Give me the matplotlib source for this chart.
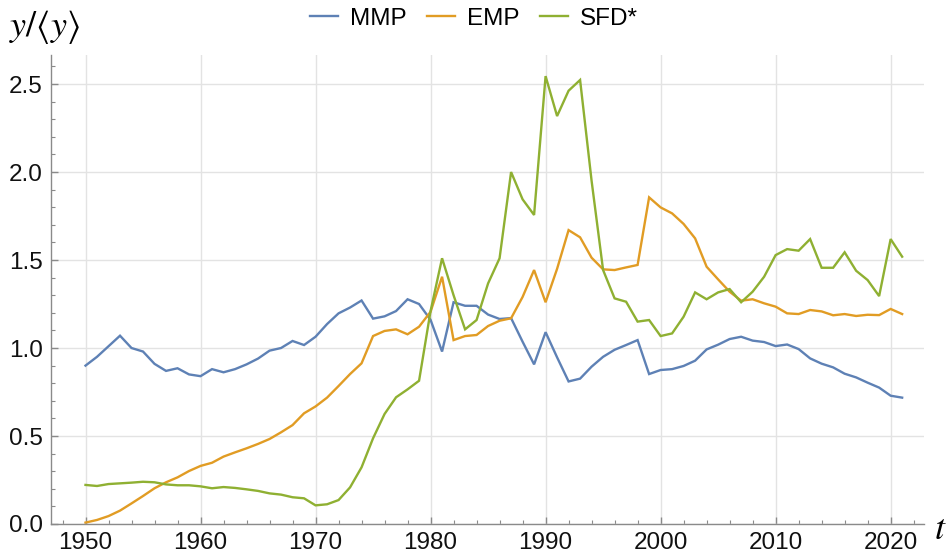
import matplotlib
matplotlib.use("Agg")
import matplotlib.pyplot as plt
from matplotlib.ticker import MultipleLocator
from matplotlib.lines import Line2D
import numpy as np

years = list(range(1950, 2022))

mmp = [0.90, 0.95, 1.01, 1.07, 1.00, 0.98, 0.91, 0.87, 0.885, 0.85,
       0.84, 0.88, 0.862, 0.88, 0.907, 0.94, 0.985, 1.00, 1.04, 1.017,
       1.064, 1.136, 1.197, 1.23, 1.27, 1.167, 1.18, 1.21, 1.277, 1.25,
       1.16, 0.98, 1.26, 1.24, 1.24, 1.19, 1.165, 1.17, 1.036, 0.907,
       1.09, 0.947, 0.81, 0.826, 0.894, 0.95, 0.99, 1.017, 1.045, 0.852,
       0.875, 0.88, 0.898, 0.928, 0.992, 1.019, 1.051, 1.064, 1.042, 1.034,
       1.011, 1.02, 0.994, 0.941, 0.911, 0.89, 0.854, 0.833, 0.803, 0.775,
       0.729, 0.718]

emp = [0.008, 0.023, 0.045, 0.076, 0.117, 0.159, 0.203, 0.237, 0.265, 0.301,
       0.33, 0.348, 0.383, 0.407, 0.430, 0.455, 0.483, 0.521, 0.562, 0.629,
       0.668, 0.718, 0.784, 0.852, 0.913, 1.068, 1.097, 1.106, 1.078, 1.121,
       1.206, 1.405, 1.045, 1.068, 1.074, 1.125, 1.155, 1.169, 1.29, 1.443,
       1.26, 1.45, 1.67, 1.629, 1.513, 1.447, 1.443, 1.458, 1.472, 1.856,
       1.799, 1.765, 1.705, 1.623, 1.462, 1.39, 1.32, 1.269, 1.277, 1.254,
       1.235, 1.197, 1.193, 1.216, 1.208, 1.186, 1.193, 1.182, 1.189, 1.187,
       1.222, 1.193]

sfd = [0.222, 0.216, 0.227, 0.231, 0.235, 0.24, 0.237, 0.225, 0.22, 0.22,
       0.214, 0.203, 0.21, 0.205, 0.197, 0.188, 0.174, 0.167, 0.152, 0.146,
       0.106, 0.112, 0.136, 0.208, 0.322, 0.487, 0.625, 0.72, 0.765, 0.814,
       1.21, 1.51, 1.30, 1.106, 1.159, 1.367, 1.51, 2.0, 1.845, 1.756,
       2.545, 2.318, 2.462, 2.523, 1.95, 1.443, 1.282, 1.263, 1.15, 1.159,
       1.068, 1.083, 1.178, 1.316, 1.277, 1.316, 1.335, 1.26, 1.32, 1.405,
       1.528, 1.562, 1.553, 1.619, 1.456, 1.456, 1.544, 1.439, 1.386, 1.295,
       1.619, 1.519]

series_names = ["MMP", "EMP", "SFD*"]
colors = ["#5E81B5", "#E19C24", "#8FB032"]

plt.rcParams["font.family"] = ["Liberation Sans", "DejaVu Sans"]
plt.rcParams["mathtext.fontset"] = "stix"

fig = plt.figure(figsize=(9.48, 5.57), dpi=100)
ax = fig.add_axes([51 / 948, 1 - 524 / 557, (924 - 51) / 948, (524 - 55) / 557])

for vals, c in zip([mmp, emp, sfd], colors):
    ax.plot(years, vals, color=c, lw=1.7, solid_joinstyle="miter")

ax.set_xlim(1947, 2022.9)
ax.set_ylim(0, 2.665)

ax.xaxis.set_major_locator(MultipleLocator(10))
ax.xaxis.set_minor_locator(MultipleLocator(2))
ax.yaxis.set_major_locator(MultipleLocator(0.5))
ax.yaxis.set_minor_locator(MultipleLocator(0.1))
ax.yaxis.set_major_formatter(plt.FuncFormatter(lambda v, p: f"{v:.1f}"))

ax.grid(True, which="major", color="#e3e3e3", lw=1.0)
ax.set_axisbelow(True)

for s in ["top", "right"]:
    ax.spines[s].set_visible(False)
for s in ["left", "bottom"]:
    ax.spines[s].set_color("#8a8a8a")
    ax.spines[s].set_linewidth(1.0)

ax.tick_params(which="both", direction="in", color="#8a8a8a", labelsize=17.5,
               labelcolor="#111111")
ax.tick_params(which="major", length=5, width=1.0, pad=6)
ax.tick_params(which="minor", length=3, width=0.8)

handles = [Line2D([], [], color=c, lw=1.7) for c in colors]
fig.legend(handles, series_names, loc="center", bbox_to_anchor=(0.5, 0.966),
           ncol=3, frameon=False, fontsize=17.5, handlelength=1.15,
           handletextpad=0.5, columnspacing=0.85)

fig.text(0.01, 0.952, r"$y/\langle y\rangle$", fontsize=26, va="center", ha="left")
fig.text(0.9915, 0.05, r"$t$", fontsize=26, va="center", ha="center")

fig.savefig("out.png", dpi=100)
